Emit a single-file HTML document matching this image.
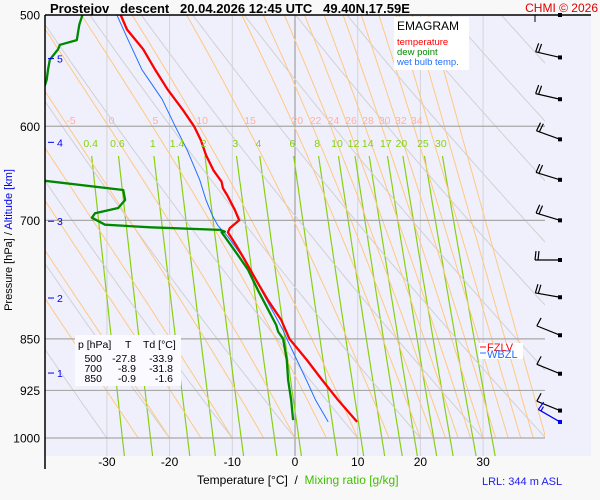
<!DOCTYPE html>
<html><head><meta charset="utf-8"><style>
html,body{margin:0;padding:0;background:#f8f8f8;}
svg{display:block;font-family:"Liberation Sans",sans-serif;}
</style></head><body>
<svg id="c" width="600" height="500" xmlns="http://www.w3.org/2000/svg">
<defs>
<clipPath id="cp"><rect x="45" y="15" width="500" height="441"/></clipPath>
<clipPath id="cp2"><rect x="45" y="15" width="500" height="423"/></clipPath>
</defs>
<rect x="45" y="15" width="546" height="441" fill="#f0f0fc"/>
<g id="grid"></g>
<g id="series" clip-path="url(#cp)"></g>
<g id="winds"></g>
<g id="labels"></g>
<line x1="45" y1="15" x2="591" y2="15" stroke="#000" stroke-width="1.5"/>
<line x1="45" y1="15" x2="45" y2="469" stroke="#000" stroke-width="1.5"/>
<text x="50" y="13" font-size="13" font-weight="bold" xml:space="preserve">Prostejov   descent   20.04.2026 12:45 UTC   49.40N,17.59E</text>
<text x="598" y="12" font-size="12" fill="#e00000" text-anchor="end">CHMI © 2026</text>
<rect x="394" y="17" width="75" height="53" fill="#fff"/>
<text x="397" y="30" font-size="12">EMAGRAM</text>
<text x="397" y="45" font-size="9.5" fill="#ff0000">temperature</text>
<text x="397" y="55" font-size="9.5" fill="#008800">dew point</text>
<text x="397" y="65" font-size="9.5" fill="#2070ff">wet bulb temp.</text>
<rect x="75" y="335" width="106" height="51" fill="#fafaff"/>
<g font-size="10.5">
<text x="78" y="348">p [hPa]</text><text x="125" y="348">T</text><text x="143" y="348">Td [°C]</text>
<text x="102" y="362" text-anchor="end">500</text><text x="136" y="362" text-anchor="end">-27.8</text><text x="173" y="362" text-anchor="end">-33.9</text>
<text x="102" y="372" text-anchor="end">700</text><text x="136" y="372" text-anchor="end">-8.9</text><text x="173" y="372" text-anchor="end">-31.8</text>
<text x="102" y="382" text-anchor="end">850</text><text x="136" y="382" text-anchor="end">-0.9</text><text x="173" y="382" text-anchor="end">-1.6</text>
</g>
<rect x="479" y="343" width="44" height="16" fill="#fff"/>
<line x1="480" y1="347" x2="486" y2="347" stroke="#f00"/>
<text x="487" y="351" font-size="11" fill="#f00">FZLV</text>
<line x1="480" y1="353" x2="486" y2="353" stroke="#2070ff"/>
<text x="487" y="358" font-size="11" fill="#2070ff">WBZL</text>
<text transform="translate(12,240) rotate(-90)" font-size="11" text-anchor="middle"><tspan>Pressure [hPa]  /  </tspan><tspan fill="#0000ee">Altitude [km]</tspan></text>
<text x="197" y="484" font-size="12" xml:space="preserve">Temperature [°C]  /  <tspan fill="#40c000">Mixing ratio [g/kg]</tspan></text>
<text x="482" y="485" font-size="11" fill="#2020ee">LRL: 344 m ASL</text>
</svg>
<script>
const pressTicks=[500,600,700,850,925,1000];
const tempTicks=[-30,-20,-10,0,10,20,30];
const isotherms=[-40,-30,-20,-10,0,10,20,30,40];
const altKm=[1,2,3,4,5];
const altP=[899,795,701,616,537];
const dryTheta=[-40,-30,-20,-10,0,10,20,30,40,50,60,70,80,90,100,110,120,130,140,150,160];
const moistThetaW=[-25,-20,-15,-10,-5,0,5,10,15,20,22,24,26,28,30,32,34,36,38,40];
const moistLabels=[-5,0,5,10,15,20,22,24,26,28,30,32,34];
const mixRatios=[0.4,0.6,1,1.4,2,3,4,6,8,10,12,14,17,20,25,30];
const tempP=[500,512,529,547,565,584,600,614,629,645,657,664,672,688,700,709,714,729,747,772,798,824,850,880,909,940,974];
const tempT=[-27.8,-26.8,-24.2,-22.3,-20.3,-17.9,-16.1,-15.0,-14.2,-13.0,-11.7,-11.5,-10.8,-9.6,-8.9,-10.4,-10.7,-9.4,-8.0,-6.2,-4.3,-2.2,-0.9,1.9,4.3,6.9,9.9];
const dewP=[500,508,521,525,529,538,547,556,563,575,640,656,666,677,686,692,697,705,708,711,713,714,719,741,759,785,831,840,850,880,909,940,971];
const dewT=[-33.9,-34.4,-34.8,-37.5,-37.8,-39.1,-39.4,-39.6,-40,-46,-46,-40,-27.4,-27.1,-28.2,-31.9,-32.4,-30.3,-23.1,-12.0,-11.2,-11.7,-11.2,-9.1,-7.5,-5.9,-3.0,-2.7,-1.9,-1.3,-1.1,-0.6,-0.3];
const wbP=[500,521,547,574,600,624,655,677,694,706,719,747,838,850,880,909,940,974];
const wbT=[-28.4,-26.6,-24.4,-21.2,-19.1,-17.2,-15.2,-14.2,-13.2,-12.3,-10.7,-8.0,-1.9,-1.3,0.3,1.8,3.3,5.3];
const windP=[500,536,574,613,655,700,747,794,845,900,956];
const windDir=[0,283,283,290,287,287,270,280,292,292,292];
const windSpd=[0,20,20,20,20,20,20,20,10,10,10];
const lrlWindP=[974];
const lrlWindDir=[300];
const lrlWindSpd=[15];

const NS='http://www.w3.org/2000/svg';
const X=t=>295+t*6.27;
const Y=p=>15+610.3*Math.log(p/500);
function mk(tag,attrs,parent){const e=document.createElementNS(NS,tag);for(const k in attrs)e.setAttribute(k,attrs[k]);parent.appendChild(e);return e;}
const grid=document.getElementById('grid'),ser=document.getElementById('series'),lab=document.getElementById('labels'),wg=document.getElementById('winds');
const gClip=mk('g',{'clip-path':'url(#cp)'},grid);
const gClip2=mk('g',{'clip-path':'url(#cp2)'},grid);

isotherms.forEach(t=>{const l=mk('line',{x1:X(t),x2:X(t),y1:15,y2:456,stroke:t===0?'#909090':'#d4d4d8','stroke-width':1},gClip);

});
function polyPts(f,p0,p1){let s=[];for(let p=p0;p<=p1;p+=5)s.push(X(f(p)).toFixed(1)+','+Y(p).toFixed(1));return s.join(' ');}
dryTheta.forEach(th=>{const l=mk('polyline',{points:polyPts(p=>(th+273.15)*Math.pow(p/1000,0.286)-273.15,500,1000),fill:'none',stroke:'#d0d0d4','stroke-width':1},gClip2);

});
function es(T){return 6.112*Math.exp(17.67*T/(T+243.5));}
function moist(thw){let T=thw+273.15,p=1000,pts=[[p,T-273.15]];const Rd=287,cp=1004,Lv=2.5e6,eps=0.622;
for(let i=0;i<200;i++){const dp=-2.5;const f=(T,p)=>{const e=es(T-273.15);const rs=eps*e/(p-e);return (Rd*T+Lv*rs)/(p*(cp+Lv*Lv*rs*eps/(Rd*T*T)));};
const k1=f(T,p),k2=f(T+k1*dp/2,p+dp/2),k3=f(T+k2*dp/2,p+dp/2),k4=f(T+k3*dp,p+dp);T+=dp*(k1+2*k2+2*k3+k4)/6;p+=dp;pts.push([p,T-273.15]);}
return pts;}
const moistAt600={};
moistThetaW.forEach(th=>{const pts=moist(th);let s=pts.map(q=>X(q[1]).toFixed(1)+','+Y(q[0]).toFixed(1)).join(' ');
pts.forEach(q=>{if(Math.abs(q[0]-600)<0.1)moistAt600[th]=q[1];});
const l=mk('polyline',{points:s,fill:'none',stroke:'#ffc880','stroke-width':1},gClip2);

});
function tdFromW(w,p){const e=w*p/(622+w);const a=Math.log(e/6.112);return 243.5*a/(17.67-a);}
mixRatios.forEach(w=>{const l=mk('polyline',{points:polyPts(p=>tdFromW(w,p),630,1030),fill:'none',stroke:'#88d010','stroke-width':1.2},gClip);


const t=mk('text',{x:X(tdFromW(w,620)),y:147,'font-size':10.5,fill:'#88d010','text-anchor':'middle'},lab);t.textContent=w;

});
moistLabels.forEach(th=>{const t=mk('text',{x:X(moistAt600[th])+3,y:124,'font-size':10.5,fill:'#ffb0a0','text-anchor':'middle'},lab);t.textContent=th;

});
pressTicks.forEach(p=>{if(p>500){const l=mk('line',{x1:45,x2:545,y1:Y(p),y2:Y(p),stroke:'#a8a8a8','stroke-width':1.2},grid);

}
const t=mk('text',{x:40,y:Y(p)+4.5,'font-size':12,'text-anchor':'end'},lab);t.textContent=p;

});
tempTicks.forEach(v=>{const t=mk('text',{x:X(v),y:466,'font-size':12,'text-anchor':'middle'},lab);t.textContent=v;

});
altKm.forEach((k,i)=>{const y=Y(altP[i]);const l=mk('line',{x1:48,x2:54,y1:y,y2:y,stroke:'#0000ee'},lab);


const t=mk('text',{x:57,y:y+4,'font-size':10.5,fill:'#0000ee'},lab);t.textContent=k;

});
function line(P,T,color,w,name){const l=mk('polyline',{points:P.map((p,i)=>X(T[i]).toFixed(1)+','+Y(p).toFixed(1)).join(' '),fill:'none',stroke:color,'stroke-width':w,'stroke-linejoin':'round'},ser);

}
line(wbP,wbT,'#2070ff',1,'wet-bulb-line');
line(dewP,dewT,'#008800',2.3,'dew-point-line');
line(tempP,tempT,'#ff0000',2.3,'temperature-line');
function barb(p,dir,spd,color,name){const x0=560,y0=Y(p);const g=mk('g',{},wg);


mk('rect',{x:x0-2,y:y0-2,width:4,height:4,fill:color},g);
if(spd<=0)return;const a=dir*Math.PI/180;const ux=Math.sin(a),uy=-Math.cos(a);const L=25;
const ex=x0+ux*L,ey=y0+uy*L;mk('line',{x1:x0,y1:y0,x2:ex,y2:ey,stroke:color,'stroke-width':1.2},g);
let px=uy,py=-ux;if(py>0){px=-px;py=-py;}
let s=spd,pos=0;while(s>=10){const bx=ex-ux*pos*3,by=ey-uy*pos*3;mk('line',{x1:bx,y1:by,x2:bx+px*9-ux*1,y2:by+py*9-uy*1,stroke:color,'stroke-width':1.2},g);s-=10;pos++;}
if(s>=5){const bx=ex-ux*pos*3,by=ey-uy*pos*3;mk('line',{x1:bx,y1:by,x2:bx+px*5,y2:by+py*5,stroke:color,'stroke-width':1.2},g);}}
windP.forEach((p,i)=>barb(p,windDir[i],windSpd[i],'#000','wind-barb'));
lrlWindP.forEach((p,i)=>barb(p,lrlWindDir[i],lrlWindSpd[i],'#0000ee','lrl-wind-barb'));
mk('line',{x1:535,y1:15,x2:535,y2:22,stroke:'#000'},wg);
</script>
</body></html>
